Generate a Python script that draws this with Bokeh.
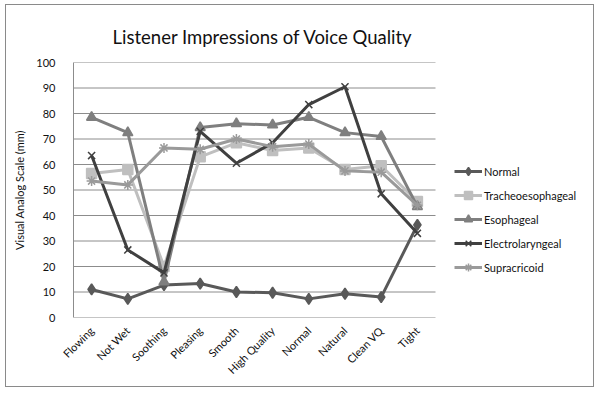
import math
from bokeh.plotting import figure
from bokeh.models import Legend, LegendItem, FixedTicker, Range1d
from bokeh.embed import file_html
from bokeh.resources import INLINE

categories = ["Flowing", "Not Wet", "Soothing", "Pleasing", "Smooth",
              "High Quality", "Normal", "Natural", "Clean VQ", "Tight"]

normal = [11.0, 7.3, 12.7, 13.3, 10.0, 9.7, 7.3, 9.3, 8.0, 36.3]
tracheoesophageal = [56.5, 58.0, 20.0, 63.0, 68.5, 65.5, 66.5, 58.0, 59.5, 45.5]
esophageal = [78.5, 72.5, 14.0, 74.5, 76.0, 75.5, 78.5, 72.5, 71.0, 43.5]
electrolaryngeal = [63.5, 26.5, 17.5, 73.0, 60.5, 68.5, 83.5, 90.5, 48.5, 33.0]
supracricoid = [53.5, 52.0, 66.5, 66.0, 70.0, 67.0, 68.0, 57.5, 57.0, 44.0]

y_ticks = list(range(0, 101, 10))

series_names = ["Normal", "Tracheoesophageal", "Esophageal", "Electrolaryngeal", "Supracricoid"]
series_values = [normal, tracheoesophageal, esophageal, electrolaryngeal, supracricoid]
colors = ["#595959", "#bfbfbf", "#7f7f7f", "#404040", "#9a9a9a"]
markers = ["diamond", "square", "triangle", "x", "asterisk"]
msizes = [11, 10, 10, 10, 10]

FONT = "Lato"

n = len(categories)
xs = [i + 0.5 for i in range(n)]
# plot area is 362 px for the categories; frame extends right to hold the legend
px_per_cat = 36.2
frame_w = 520
p = figure(x_range=Range1d(0, frame_w / px_per_cat), y_range=Range1d(0, 100),
           width=589, height=383, output_backend="svg", toolbar_location=None,
           min_border_left=67, min_border_right=2, min_border_top=57, min_border_bottom=71,
           title="Listener Impressions of Voice Quality")
p.styles = {"border": "1px solid #8a8a8a", "margin-left": "5px", "margin-top": "4px"}

p.title.text_font = FONT
p.title.text_font_size = "18.5px"
p.title.text_font_style = "normal"
p.title.align = "left"
p.title.text_color = "#111111"
p.title.offset = 39
p.title.standoff = 30

p.outline_line_color = None
p.xgrid.grid_line_color = None
p.ygrid.grid_line_color = None
p.segment(x0=[0] * len(y_ticks), x1=[n] * len(y_ticks), y0=y_ticks, y1=y_ticks,
          line_color="#8c8c8c", line_width=1)

p.yaxis.ticker = FixedTicker(ticks=y_ticks)
p.yaxis.axis_line_color = "#8c8c8c"
p.yaxis.major_tick_line_color = None
p.yaxis.minor_tick_line_color = None
p.yaxis.major_label_standoff = 12
p.yaxis.axis_label = "Visual Analog Scale (mm)"
p.yaxis.axis_label_standoff = 7
p.yaxis.axis_label_text_font = FONT
p.yaxis.axis_label_text_font_size = "11px"
p.yaxis.axis_label_text_font_style = "normal"
p.yaxis.axis_label_text_color = "#111111"
p.yaxis.major_label_text_font = FONT
p.yaxis.major_label_text_font_size = "11px"
p.yaxis.major_label_text_color = "#111111"

p.xaxis.ticker = FixedTicker(ticks=xs)
p.xaxis.major_label_overrides = {x: c for x, c in zip(xs, categories)}
p.xaxis.axis_line_color = None
p.xaxis.major_tick_line_color = None
p.xaxis.minor_tick_line_color = None
p.xaxis.major_label_standoff = 5
p.xaxis.major_label_text_font = FONT
p.xaxis.major_label_text_font_size = "11px"
p.xaxis.major_label_text_color = "#111111"
p.xaxis.major_label_orientation = math.pi / 4

items = []
for name, vals, c, m, s in zip(series_names, series_values, colors, markers, msizes):
    r1 = p.line(xs, vals, line_color=c, line_width=3)
    r2 = p.scatter(xs, vals, marker=m, size=s, fill_color=c, line_color=c, line_width=1.5)
    items.append(LegendItem(label=name, renderers=[r1, r2]))

legend = Legend(items=items, location=(381, 40), border_line_color=None,
                background_fill_alpha=0, label_text_font=FONT, label_text_font_size="11px",
                label_text_color="#111111",
                glyph_width=28, glyph_height=20, label_height=20, spacing=4,
                padding=0, margin=0, label_standoff=2)
p.add_layout(legend, "center")

open("out.html", "w").write(file_html(p, INLINE))
